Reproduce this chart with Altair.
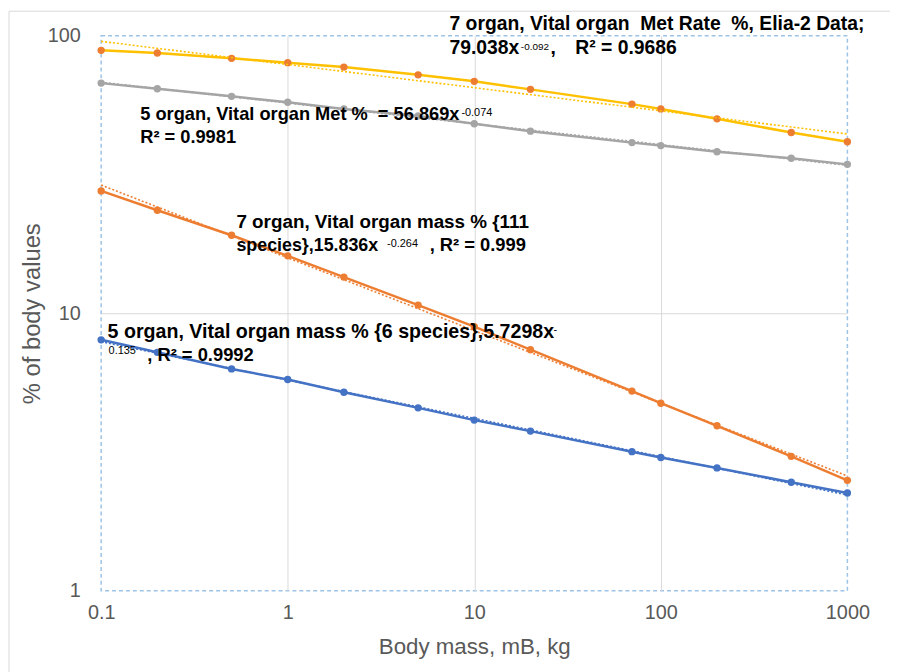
import altair as alt
import pandas as pd

# ---------------- data ----------------
MASS = [0.1, 0.2, 0.5, 1, 2, 5, 10, 20, 70, 100, 200, 500, 1000]
MET7 = [88.6, 86.7, 82.9, 80.0, 77.1, 72.3, 68.5, 64.1, 56.7, 54.5, 50.2, 44.8, 41.5]
MET5 = [67.5, 64.4, 60.5, 57.6, 54.5, 51.4, 48.2, 45.3, 41.2, 40.2, 38.2, 36.2, 34.4]
MASS7 = [27.6, 23.5, 19.1, 16.1, 13.5, 10.7, 8.95, 7.39, 5.24, 4.74, 3.93, 3.05, 2.50]
MASS5 = [8.02, 7.23, 6.30, 5.77, 5.19, 4.56, 4.12, 3.76, 3.17, 3.02, 2.77, 2.46, 2.25]
SERIES = ["5 organ mass", "7 organ mass", "5 organ met", "7 organ met"]
X_TICKS = [0.1, 1, 10, 100, 1000]
Y_TICKS = [1, 10, 100]
X_TITLE = "Body mass, mB, kg"
Y_TITLE = "% of body values"

ANN_MET7 = ["7 organ, Vital organ\u00a0 Met Rate\u00a0 %, Elia-2 Data;", "79.038x", "-0.092", ",", "R\u00b2 = 0.9686"]
ANN_MET5 = ["5 organ, Vital organ Met %\u00a0 = 56.869x", "-0.074", "R\u00b2 = 0.9981"]
ANN_MASS7 = ["7 organ, Vital organ mass % {111", "species},15.836x", "-0.264", ", R\u00b2 = 0.999"]
ANN_MASS5 = ["5 organ, Vital organ mass % {6 species},5.7298x", "-", "0.135", ", R\u00b2 = 0.9992"]

rows = []
for name, vals in zip(SERIES, [MASS5, MASS7, MET5, MET7]):
    for m, v in zip(MASS, vals):
        rows.append({"series": name, "mass": m, "value": v})
df = pd.DataFrame(rows)

# ---------------- styles ----------------
STYLE = {
    "5 organ mass": ("#4472C4", "#4472C4", "#4472C4"),
    "7 organ mass": ("#ED7D31", "#ED7D31", "#ED7D31"),
    "5 organ met": ("#A5A5A5", "#A5A5A5", "#A5A5A5"),
    "7 organ met": ("#FFC000", "#ED7D31", "#FFC000"),
}
LABEL_FONT = "Liberation Sans"
GREY = "#595959"

x_enc = alt.X(
    "mass:Q",
    scale=alt.Scale(type="log", domain=[0.1, 1000], nice=False),
    axis=alt.Axis(
        values=X_TICKS, format="~g", title=X_TITLE, ticks=False, domain=False,
        grid=True, gridColor="#D9D9D9", gridWidth=1,
        gridOpacity={"condition": {"test": "datum.value < 0.2 || datum.value > 500", "value": 0}, "value": 1},
        labelFont=LABEL_FONT, labelFontSize=20, labelColor=GREY, labelPadding=12,
        labelFlush=False,
        titleFont=LABEL_FONT, titleFontSize=22.5, titleColor=GREY, titleFontWeight="normal",
        titlePadding=13,
    ),
)
y_enc = alt.Y(
    "value:Q",
    scale=alt.Scale(type="log", domain=[1, 100], nice=False),
    axis=alt.Axis(
        values=Y_TICKS, format="~g", title=Y_TITLE, ticks=False, domain=False,
        grid=True, gridColor="#D9D9D9", gridWidth=1,
        gridOpacity={"condition": {"test": "datum.value < 2 || datum.value > 50", "value": 0}, "value": 1},
        labelFont=LABEL_FONT, labelFontSize=20, labelColor=GREY, labelPadding=21,
        titleFont=LABEL_FONT, titleFontSize=24, titleColor=GREY, titleFontWeight="normal",
        titlePadding=3,
    ),
)

base = alt.Chart(df)
layers = []

# outer chart-area border
frame = alt.Chart(pd.DataFrame({"k": [0]})).mark_rect(
    fill="transparent", stroke="#D9D9D9", strokeWidth=1
).encode(x=alt.value(-93), x2=alt.value(800), y=alt.value(-24.8), y2=alt.value(700))
layers.append(frame)

for s in SERIES:
    lc, mc, tc = STYLE[s]
    sub = base.transform_filter(alt.datum.series == s)
    layers.append(sub.mark_line(color=lc, strokeWidth=2.5).encode(x=x_enc, y=y_enc))
    layers.append(sub.mark_circle(color=mc, size=55, opacity=1).encode(x=x_enc, y=y_enc))

for s in SERIES:
    lc, mc, tc = STYLE[s]
    trend = (
        base.transform_filter(alt.datum.series == s)
        .transform_calculate(lx="log(datum.mass)/LN10", ly="log(datum.value)/LN10")
        .transform_regression("lx", "ly", method="linear")
        .transform_calculate(mass="pow(10, datum.lx)", value="pow(10, datum.ly)")
        .mark_line(color=tc, strokeWidth=1.6, strokeDash=[2, 2])
        .encode(x=x_enc, y=y_enc)
    )
    layers.append(trend)

OX, OY = 101.5, 33.3  # plot origin on the page


def label(text, px, py, size=18.5, weight="bold", font=LABEL_FONT):
    return alt.Chart(pd.DataFrame({"t": [text]})).mark_text(
        align="left", baseline="alphabetic", font=font, fontSize=size,
        fontWeight=weight, color="#000000"
    ).encode(text="t:N", x=alt.value(px - OX), y=alt.value(py - OY))


SUP = 11
layers += [
    label(ANN_MET7[0], 453, 27.7, 19.5),
    label(ANN_MET7[1], 453, 51.7, 19.5),
    label(ANN_MET7[2], 525, 47.5, 10, "normal"),
    label(ANN_MET7[3], 555, 51.7, 19.5),
    label(ANN_MET7[4], 580, 51.7, 19.5),
    label(ANN_MET5[0], 141, 118.3, 18.4),
    label(ANN_MET5[1], 465, 114, SUP, "normal"),
    label(ANN_MET5[2], 141, 141.7, 18.4),
    label(ANN_MASS7[0], 238, 227.7, 19),
    label(ANN_MASS7[1], 238, 250.7, 18),
    label(ANN_MASS7[2], 390, 246.5, SUP, "normal"),
    label(ANN_MASS7[3], 433, 250.7, 18.5),
    label(ANN_MASS5[0], 108, 338.3, 19.8),
    label(ANN_MASS5[1], 558, 333, SUP, "normal"),
    label(ANN_MASS5[2], 109, 354, SUP, "normal"),
    label(ANN_MASS5[3], 148, 361.7, 18.5),
]

chart = (
    alt.layer(*layers)
    .properties(
        width=753, height=560,
        padding={"left": 94, "top": 25, "right": 43, "bottom": 79},
        autosize="none",
        background="white",
    )
    .configure_view(stroke="#9DC3E6", strokeDash=[4, 3], strokeWidth=1.5)
)

chart.save("out.html", embed_options={"renderer": "svg", "actions": False})
